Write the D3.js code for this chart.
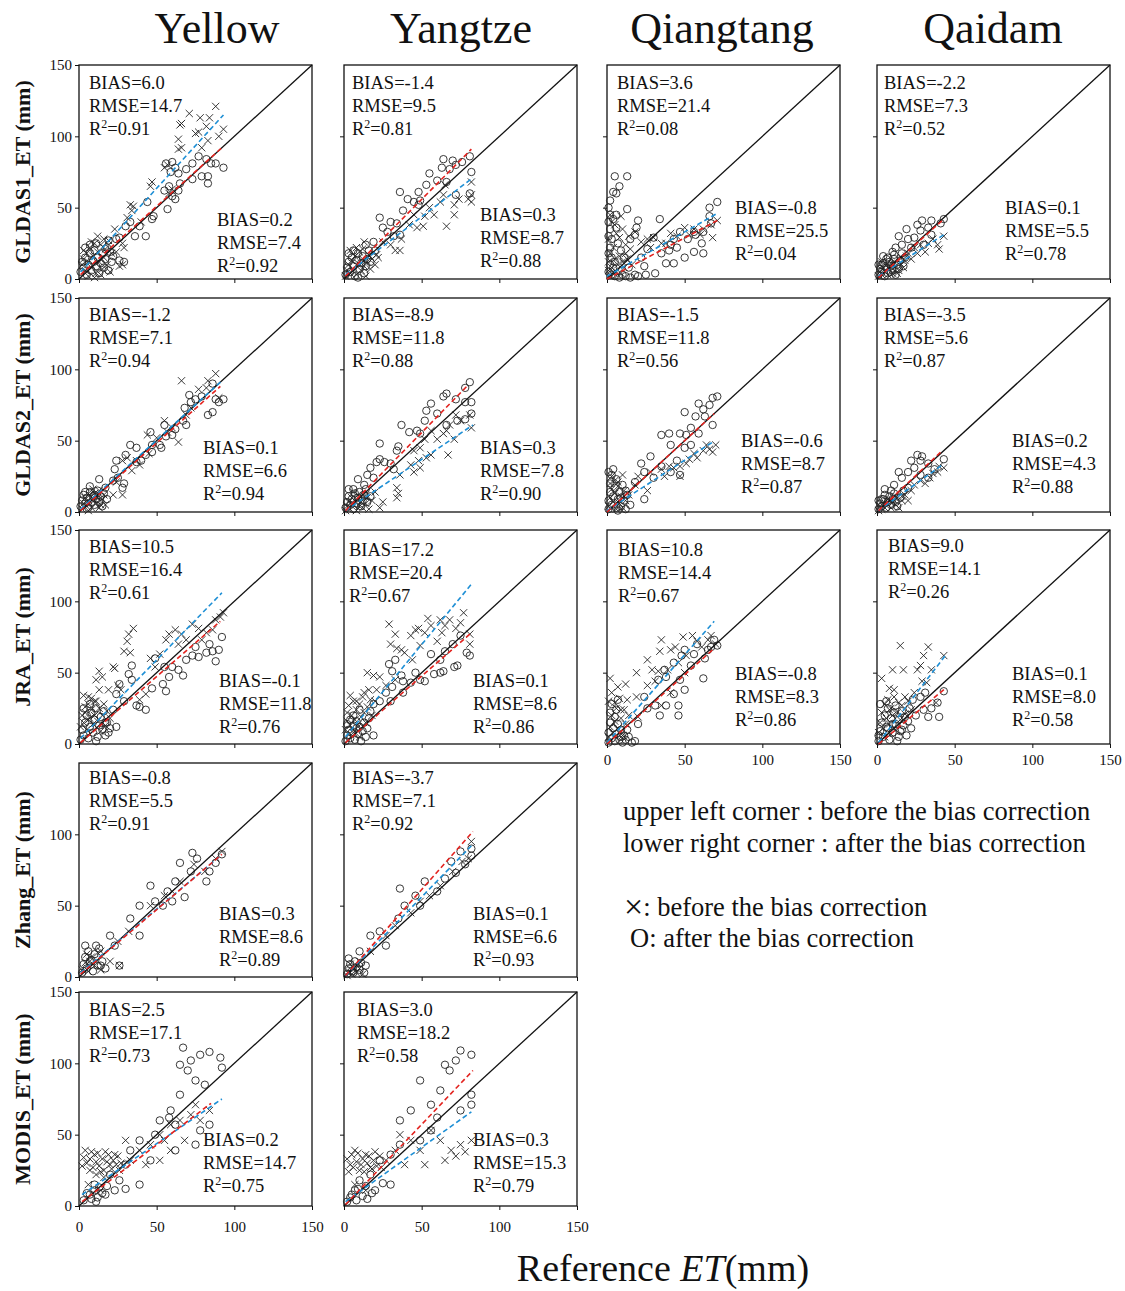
<!DOCTYPE html>
<html>
<head>
<meta charset="utf-8">
<script src="https://cdn.jsdelivr.net/npm/d3@7"></script>
<style>
  body { margin: 0; background: #fff; }
  svg { display: block; }
  text { font-family: "Liberation Serif", "Times New Roman", serif; fill: #111; }
</style>
</head>
<body>
<svg id="chart" width="1125" height="1291"></svg>
<script>
// ---------------- data ----------------
const regions = ["Yellow", "Yangtze", "Qiangtang", "Qaidam"];
const products = ["GLDAS1_ET (mm)", "GLDAS2_ET (mm)", "JRA_ET (mm)", "Zhang_ET (mm)", "MODIS_ET (mm)"];
const axisTicks = [0, 50, 100, 150];

// [reference ET, product ET] pairs in mm; "Before" = before bias correction, "After" = after
const gldas1YellowBefore = [[88,121],[71,116],[66,109],[65,108],[77,103],[75,102],[78,113],[84,113],[82,107],[93,105],[90,100],[83,97],[79,92],[64,98],[66,92],[64,91],[55,78],[57,80],[47,68],[46,65],[33,52],[35,51],[34,48],[31,43],[23,35],[28,25],[29,22],[28,10],[26,9],[24,19],[58,60],[60,63],[40,40],
  [2,10],[3,14],[4,6],[5,18],[6,12],[7,22],[8,8],[9,16],[10,25],[11,4],[12,19],[13,12],[14,24],[15,7],[16,15],[17,21],[18,10],[19,27],[20,5],[21,18],[6,2],[10,1],[14,3],[3,20],[8,26],[12,30],[16,28]];
const gldas1YellowAfter = [[56,81],[60,82],[62,78],[59,75],[64,74],[69,77],[73,81],[77,86],[82,84],[85,81],[88,81],[93,78],[79,72],[83,72],[73,70],[83,67],[65,67],[58,65],[64,62],[55,62],[60,58],[62,56],[57,49],[48,44],[47,42],[44,54],[39,37],[36,30],[43,30],[33,40],[30,37],[26,29],[24,28],[19,27],[17,21],[20,19],[26,13],[29,12],
  [1,5],[2,12],[3,8],[4,15],[5,3],[6,10],[7,18],[8,6],[9,13],[10,20],[11,9],[12,15],[13,4],[14,11],[15,18],[16,8],[17,14],[18,22],[19,6],[21,12],[4,22],[7,24],[11,25],[22,16]];

const gldas1YangtzeBefore = [[82,68],[82,59],[82,54],[80,56],[71,45],[66,37],[74,56],[71,52],[64,59],[65,66],[62,54],[55,50],[52,44],[51,37],[47,36],[42,38],[37,28],[36,20],[33,20],[30,24],[25,26],[21,17],[13,26],[12,21],[45,45],[58,45],
  [1,2],[2,6],[3,10],[4,4],[5,13],[6,7],[7,16],[8,3],[9,11],[10,19],[11,6],[12,14],[13,9],[14,2],[15,12],[16,17],[17,7],[18,14],[20,10],[4,20],[8,22],[22,15]];
const gldas1YangtzeAfter = [[64,84],[70,83],[76,82],[81,86],[82,75],[63,78],[68,77],[72,80],[55,74],[53,66],[48,61],[49,55],[36,61],[41,56],[45,54],[48,52],[23,43],[30,40],[25,36],[34,39],[36,31],[38,48],[60,69],[66,68],[72,59],[81,60],[32,30],[19,26],[14,24],[28,33],[20,20],
  [1,3],[2,8],[3,12],[4,5],[5,15],[6,9],[7,2],[8,13],[9,18],[10,7],[11,11],[12,16],[13,4],[14,9],[15,14],[16,20],[3,18],[6,20],[9,1],[17,12]];

const gldas1QiangtangBefore = [[2,45],[5,38],[9,44],[8,29],[12,24],[15,21],[18,33],[22,26],[26,28],[30,29],[35,25],[41,32],[50,36],[53,31],[56,35],[62,35],[67,38],[71,41],[68,29],[60,31],[45,30],[38,25],[28,22],[6,32],[3,40],[10,35],[1,28],[14,30],
  [1,12],[2,18],[3,8],[4,22],[5,14],[6,5],[7,10],[8,16],[9,4],[10,12],[11,8],[12,18],[3,2],[1,6],[13,14],[16,10]];
const gldas1QiangtangAfter = [[5,72],[13,72],[8,65],[4,61],[6,60],[2,45],[13,49],[20,41],[19,36],[18,31],[15,28],[34,42],[30,29],[26,21],[22,15],[24,9],[25,3],[31,4],[38,11],[43,11],[50,15],[56,19],[62,18],[61,25],[45,22],[52,28],[56,33],[62,33],[67,39],[66,44],[71,54],[66,50],[57,31],[41,24],[35,18],[47,33],[43,28],[40,20],
  [1,40],[2,35],[1,30],[3,28],[2,22],[1,18],[3,15],[2,10],[4,8],[1,5],[3,3],[5,2],[8,1],[10,3],[12,2],[15,1],[18,3],[20,2],[6,36],[4,42],[7,25],[9,20],[11,15],[5,12],[14,8],[1,50],[2,55],[6,45]];

const gldas1QaidamBefore = [[43,30],[40,21],[39,24],[36,28],[31,19],[28,24],[24,22],[20,18],[16,15],[11,12],[7,8],[13,4],[33,25],[26,18],[22,14],
  [1,2],[2,5],[3,3],[4,8],[5,5],[6,10],[7,3],[8,7],[9,11],[10,4],[12,9],[14,6],[15,11],[17,8],[18,13],[3,12],[19,16]];
const gldas1QaidamAfter = [[29,41],[35,41],[43,42],[19,35],[41,39],[28,34],[33,36],[24,29],[16,24],[11,17],[22,22],[30,24],[35,31],[7,15],[3,10],[9,5],[26,38],[20,28],[14,30],
  [1,3],[2,7],[3,5],[4,11],[5,2],[6,8],[7,4],[8,12],[9,9],[10,6],[11,14],[12,3],[13,10],[14,7],[15,13],[16,18],[17,9],[18,15],[1,10],[4,16],[6,14],[10,19],[12,22]];

const gldas2YellowBefore = [[83,92],[88,97],[82,87],[66,92],[77,86],[69,68],[64,49],[60,59],[55,64],[57,56],[45,41],[44,54],[39,33],[34,29],[37,36],[28,36],[31,38],[24,21],[28,12],[22,12],[17,5],[13,3],[90,80],[72,73],[50,52],
  [2,2],[3,6],[4,10],[5,4],[6,8],[7,12],[8,3],[9,9],[10,13],[11,6],[12,10],[13,15],[14,5],[15,9],[16,12],[6,1],[9,16]];
const gldas2YellowAfter = [[86,90],[93,79],[90,77],[88,79],[83,68],[86,70],[79,81],[75,79],[71,82],[72,77],[68,73],[67,64],[69,61],[62,58],[60,54],[56,53],[55,61],[52,47],[53,45],[46,56],[47,47],[47,42],[43,40],[40,36],[37,35],[33,47],[37,45],[30,40],[24,36],[23,30],[25,24],[28,17],[29,20],[22,22],[17,17],[13,23],[10,12],
  [1,4],[2,8],[3,12],[4,6],[5,10],[6,3],[7,14],[8,7],[9,11],[10,5],[11,9],[12,15],[13,7],[14,11],[15,4],[16,13],[4,14],[7,18],[18,9]];

const gldas2YangtzeBefore = [[82,59],[81,68],[75,64],[72,68],[68,61],[66,57],[71,51],[67,40],[64,55],[60,51],[56,57],[52,51],[49,45],[56,40],[53,38],[45,43],[48,36],[43,33],[45,28],[36,26],[49,31],[34,17],[35,13],[34,10],[25,7],[23,3],[20,14],[15,10],
  [1,1],[2,4],[3,7],[4,2],[5,10],[6,5],[7,8],[8,1],[9,12],[10,4],[11,7],[12,3],[13,11],[14,6],[16,2],[18,8],[6,14]];
const gldas2YangtzeAfter = [[81,91],[78,87],[64,81],[72,79],[78,77],[82,77],[82,69],[56,76],[53,71],[60,69],[66,61],[73,64],[78,65],[52,64],[47,57],[42,56],[49,55],[37,61],[23,48],[35,46],[34,43],[23,37],[26,35],[21,35],[17,31],[15,26],[30,34],[32,30],[19,24],[13,19],[6,16],[9,23],[66,83],
  [1,3],[2,7],[3,11],[4,5],[5,9],[6,2],[7,13],[8,6],[9,10],[10,14],[11,4],[12,8],[13,12],[14,16],[3,16],[15,7],[17,11]];

const gldas2QiangtangBefore = [[70,47],[66,44],[68,42],[62,43],[56,41],[53,37],[51,34],[47,32],[43,31],[40,32],[47,25],[35,30],[28,28],[20,25],[18,19],[10,26],[3,25],[7,21],[26,15],[58,38],[64,47],[37,25],
  [1,4],[2,10],[3,16],[4,7],[5,13],[6,2],[7,18],[8,6],[9,11],[10,3],[11,15],[12,8],[14,12],[2,20],[5,22]];
const gldas2QiangtangAfter = [[68,80],[71,81],[66,75],[59,76],[57,67],[63,67],[50,70],[68,61],[54,59],[47,55],[51,54],[40,55],[35,54],[59,55],[54,47],[50,45],[41,47],[28,39],[45,36],[35,32],[47,26],[41,28],[22,34],[24,28],[30,24],[18,21],[12,15],[9,10],[15,5],[24,9],[62,72],
  [1,2],[1,8],[2,14],[2,20],[3,5],[3,26],[4,11],[5,17],[6,3],[6,23],[7,9],[8,14],[9,4],[10,19],[11,8],[12,2],[13,12],[1,28],[4,30],[7,1]];

const gldas2QaidamBefore = [[43,31],[40,32],[39,28],[34,24],[28,22],[24,19],[22,15],[16,11],[11,8],[20,8],[31,20],[36,27],
  [1,1],[2,4],[3,2],[4,6],[5,3],[6,8],[7,5],[8,9],[9,3],[10,7],[12,5],[13,10],[14,3],[16,8],[18,12]];
const gldas2QaidamAfter = [[29,39],[28,36],[43,37],[24,31],[33,34],[20,28],[28,26],[16,24],[11,19],[9,15],[20,17],[33,24],[3,9],[26,40],[22,36],[37,30],[14,28],
  [1,2],[2,6],[3,4],[4,9],[5,12],[6,3],[7,7],[8,11],[9,5],[10,9],[11,13],[12,7],[13,4],[15,10],[1,8],[5,16],[17,15]];

const jraYellowBefore = [[35,81],[32,77],[31,72],[33,64],[29,65],[22,54],[23,53],[13,51],[15,47],[11,45],[3,34],[6,33],[10,30],[13,38],[25,41],[27,38],[19,38],[46,60],[49,54],[52,63],[56,73],[58,77],[62,80],[66,77],[69,73],[64,70],[73,84],[77,81],[82,78],[86,80],[91,89],[93,92],[88,87],[79,73],[43,35],[39,31],[4,26],[6,17],
  [1,12],[2,20],[3,15],[4,22],[5,10],[6,28],[7,18],[8,24],[9,14],[10,20],[11,30],[12,16],[13,25],[14,9],[15,20],[16,28],[17,13],[18,23],[20,18],[8,32]];
const jraYellowAfter = [[34,55],[32,49],[34,45],[26,42],[24,35],[29,30],[37,27],[43,24],[39,26],[47,39],[54,42],[56,37],[58,47],[64,52],[67,48],[60,54],[69,59],[73,62],[77,61],[82,64],[86,65],[90,66],[92,75],[88,58],[84,70],[75,68],[55,54],[49,60],[22,24],[17,15],[24,12],[19,8],
  [1,3],[2,10],[3,6],[4,15],[5,20],[6,4],[7,12],[8,22],[9,8],[10,17],[11,25],[12,5],[13,13],[14,19],[15,10],[16,23],[17,6],[18,15],[20,11],[3,25],[7,28],[11,2]];

const jraYangtzeBefore = [[29,84],[33,77],[30,70],[34,67],[37,66],[39,64],[43,76],[46,80],[48,81],[54,88],[56,83],[52,78],[62,87],[65,83],[68,87],[72,81],[77,92],[75,85],[81,77],[81,70],[63,78],[60,72],[49,69],[44,59],[15,50],[19,48],[23,47],[27,41],[13,36],[4,34],[8,30],[17,31],[21,38],[33,45],[2,22],
  [1,10],[2,16],[3,27],[4,13],[5,20],[6,30],[7,17],[8,24],[9,12],[10,28],[11,19],[12,33],[13,22],[14,15],[15,26],[16,38],[18,20],[20,30],[6,8],[10,5]];
const jraYangtzeAfter = [[81,62],[79,64],[73,55],[71,54],[65,65],[62,59],[56,63],[62,50],[64,51],[58,49],[52,44],[49,45],[43,43],[46,50],[38,44],[31,51],[29,56],[33,59],[37,48],[38,36],[31,40],[27,36],[23,30],[30,30],[19,28],[10,24],[17,23],[4,17],[19,6],[8,11],[70,70],[75,76],
  [1,2],[2,6],[3,10],[4,4],[5,8],[6,13],[7,3],[8,16],[9,7],[10,12],[11,2],[12,9],[13,15],[14,5],[15,11],[16,18],[2,14],[6,20]];

const jraQiangtangBefore = [[2,46],[12,42],[19,50],[26,59],[29,52],[33,51],[34,65],[35,73],[41,66],[44,68],[49,75],[55,76],[58,72],[51,62],[46,57],[39,52],[31,44],[26,41],[19,33],[13,31],[5,29],[9,24],[20,19],[35,27],[41,36],[50,50],[65,73],[61,68],[67,76],[70,70],
  [1,5],[2,12],[3,20],[4,8],[5,16],[6,25],[7,11],[8,32],[9,18],[10,6],[11,24],[12,14],[14,20],[1,30],[3,36],[7,40]];
const jraQiangtangAfter = [[69,73],[67,68],[65,66],[63,60],[62,46],[54,55],[56,63],[50,66],[48,62],[43,57],[37,52],[33,45],[38,47],[47,45],[50,38],[43,35],[46,27],[38,27],[46,20],[34,20],[31,27],[24,33],[26,25],[20,14],[13,10],[18,2],[9,5],[5,19],[7,31],[58,70],[71,69],
  [1,1],[1,8],[2,15],[3,4],[4,11],[5,2],[6,7],[7,14],[8,3],[9,10],[10,1],[11,6],[12,3],[14,5],[16,1],[2,22],[3,28],[6,24]];

const jraQaidamBefore = [[15,69],[33,68],[10,52],[17,52],[26,52],[35,52],[28,55],[30,62],[43,62],[3,46],[8,39],[11,38],[29,44],[32,43],[24,36],[18,33],[14,29],[8,24],[38,29],
  [1,8],[2,15],[3,22],[4,11],[5,28],[6,18],[7,31],[8,14],[9,25],[10,20],[11,33],[12,10],[13,22],[15,17],[16,27],[18,21],[20,30],[22,24],[5,5],[9,7]];
const jraQaidamAfter = [[43,37],[39,29],[40,19],[28,33],[31,36],[23,31],[21,25],[30,24],[33,19],[18,19],[10,14],[7,11],[16,10],[14,5],[1,6],[25,20],[35,25],[12,27],
  [1,2],[2,9],[3,15],[4,5],[5,20],[6,12],[7,25],[8,3],[9,18],[10,8],[11,22],[12,14],[13,2],[14,17],[15,9],[16,23],[17,13],[19,6],[20,16],[2,28],[6,30],[22,11]];

const zhangYellowBefore = [[88,83],[92,88],[81,74],[65,67],[55,57],[46,50],[32,32],[25,25],[14,18],[7,11],[20,11],[26,8],[74,79],[60,60],
  [2,5],[4,10],[6,4],[8,14],[10,8],[12,17],[14,5],[5,16]];
const zhangYellowAfter = [[73,87],[76,83],[92,86],[84,74],[82,67],[72,74],[65,80],[62,67],[57,60],[60,53],[46,64],[49,53],[39,50],[33,41],[39,29],[20,29],[23,22],[11,22],[7,11],[14,8],[26,8],[88,80],[68,56],[54,50],
  [2,3],[3,9],[4,14],[5,6],[6,18],[8,12],[9,4],[10,16],[12,8],[13,20],[15,11],[17,6],[4,22]];

const zhangYangtzeBefore = [[82,95],[76,81],[70,74],[62,64],[49,53],[43,45],[33,36],[27,29],[17,18],[10,11],[7,6],[80,83],[55,57],
  [2,1],[3,4],[5,2],[6,7],[8,3],[10,6],[12,2],[4,9]];
const zhangYangtzeAfter = [[82,90],[82,85],[78,79],[72,73],[69,81],[65,69],[52,67],[46,57],[49,50],[36,62],[39,50],[35,41],[23,32],[27,22],[17,29],[10,18],[7,11],[14,8],[5,4],[60,60],[75,88],
  [2,2],[3,6],[4,9],[6,3],[8,7],[10,5],[11,10],[13,3],[3,13]];

const modisYellowBefore = [[4,39],[7,25],[10,36],[14,24],[17,38],[20,29],[26,25],[23,36],[6,15],[14,11],[33,32],[30,46],[39,39],[46,43],[52,50],[55,46],[59,57],[65,60],[72,64],[78,60],[75,71],[84,67],[68,46],[52,32],[43,29],[59,39],
  [2,28],[3,34],[5,30],[8,38],[9,27],[11,31],[12,37],[13,28],[15,33],[16,25],[18,31],[19,36],[21,26],[22,32],[24,29],[25,35],[27,30],[11,22],[16,20],[7,33]];
const modisYellowAfter = [[65,99],[72,102],[67,111],[78,106],[84,108],[91,104],[92,97],[75,88],[81,85],[65,78],[59,67],[62,57],[52,60],[49,50],[39,46],[33,39],[30,29],[46,32],[62,39],[75,43],[78,53],[84,57],[20,22],[10,15],[7,8],[17,8],[23,11],[39,15],[70,95],[58,62],
  [3,4],[5,9],[8,5],[10,11],[12,6],[13,13],[15,9],[18,14],[11,3],[26,18],[30,12]];

const modisYangtzeBefore = [[4,29],[7,39],[10,25],[14,36],[17,27],[20,38],[27,32],[33,39],[36,50],[43,46],[49,39],[56,53],[62,46],[69,39],[75,43],[82,46],[65,32],[52,29],[39,29],[7,15],[14,11],
  [2,33],[3,24],[5,36],[6,27],[8,31],[9,37],[11,29],[12,33],[13,24],[15,30],[16,35],[18,26],[19,32],[21,28],[23,35],[24,27],[72,35],[78,38]];
const modisYangtzeAfter = [[75,109],[82,106],[72,102],[62,81],[65,99],[56,71],[49,88],[43,67],[36,60],[56,53],[49,46],[36,43],[30,36],[23,32],[17,22],[10,18],[7,11],[20,11],[30,15],[75,67],[82,71],[82,78],[4,6],[68,95],[60,62],
  [2,3],[5,8],[8,4],[9,12],[12,7],[14,14],[15,5],[18,9],[25,16]];

// regression lines [x0, y0, x1, y1] in mm, panel order row by row
const fitBefore = [[1,5,93,115],[1,3,83,71],[0,2,71,46],[1,2,43,31],
                   [1,2,92,92],[1,1,83,61],[0,1,68,49],[1,1,42,33],
                   [1,4,92,106],[1,5,82,112],[0,1,69,86],[1,1,44,62],
                   [1,3,90,84],[1,1,82,92],
                   [2,8,92,75],[1,3,82,66]];
const fitAfter  = [[1,3,93,93],[1,2,82,91],[0,0,71,41],[1,1,42,41],
                   [1,1,91,88],[1,1,79,88],[0,0,69,69],[1,1,41,42],
                   [1,1,91,86],[1,1,81,77],[0,0,69,67],[1,0,44,39],
                   [1,2,92,86],[1,1,83,102],
                   [2,3,85,72],[1,1,83,95]];

// [BIAS, RMSE, R2]
const statsBefore = [[6.0,14.7,0.91],[-1.4,9.5,0.81],[3.6,21.4,0.08],[-2.2,7.3,0.52],
                     [-1.2,7.1,0.94],[-8.9,11.8,0.88],[-1.5,11.8,0.56],[-3.5,5.6,0.87],
                     [10.5,16.4,0.61],[17.2,20.4,0.67],[10.8,14.4,0.67],[9.0,14.1,0.26],
                     [-0.8,5.5,0.91],[-3.7,7.1,0.92],
                     [2.5,17.1,0.73],[3.0,18.2,0.58]];
const statsAfter  = [[0.2,7.4,0.92],[0.3,8.7,0.88],[-0.8,25.5,0.04],[0.1,5.5,0.78],
                     [0.1,6.6,0.94],[0.3,7.8,0.90],[-0.6,8.7,0.87],[0.2,4.3,0.88],
                     [-0.1,11.8,0.76],[0.1,8.6,0.86],[-0.8,8.3,0.86],[0.1,8.0,0.58],
                     [0.3,8.6,0.89],[0.1,6.6,0.93],
                     [0.2,14.7,0.75],[0.3,15.3,0.79]];

const beforeSeries = [gldas1YellowBefore, gldas1YangtzeBefore, gldas1QiangtangBefore, gldas1QaidamBefore,
  gldas2YellowBefore, gldas2YangtzeBefore, gldas2QiangtangBefore, gldas2QaidamBefore,
  jraYellowBefore, jraYangtzeBefore, jraQiangtangBefore, jraQaidamBefore,
  zhangYellowBefore, zhangYangtzeBefore, modisYellowBefore, modisYangtzeBefore];
const afterSeries = [gldas1YellowAfter, gldas1YangtzeAfter, gldas1QiangtangAfter, gldas1QaidamAfter,
  gldas2YellowAfter, gldas2YangtzeAfter, gldas2QiangtangAfter, gldas2QaidamAfter,
  jraYellowAfter, jraYangtzeAfter, jraQiangtangAfter, jraQaidamAfter,
  zhangYellowAfter, zhangYangtzeAfter, modisYellowAfter, modisYangtzeAfter];

// ---------------- layout ----------------
const panelGrid = [[0,0],[0,1],[0,2],[0,3],[1,0],[1,1],[1,2],[1,3],[2,0],[2,1],[2,2],[2,3],[3,0],[3,1],[4,0],[4,1]];
const colLeft = [79, 344, 607, 877];
const rowTop = [65, 298, 530, 763, 992];
const panelW = 233, panelH = 214;
// stat-box anchors inside each panel: [upper-left x, y, lower-right x, y] (px)
const noteAnchors = [[10,18,138,155],[8,18,136,150],[10,18,128,143],[7,18,128,143],
                     [10,17,124,150],[8,17,136,150],[10,17,134,143],[7,17,135,143],
                     [10,17,140,151],[5,20,129,151],[11,20,128,144],[11,16,135,144],
                     [10,15,140,151],[8,15,129,151],
                     [10,18,124,148],[13,18,129,148]];

const blue = "#1e8fd5", red = "#e3231f";
const svg = d3.select("#chart");

const x = d3.scaleLinear().domain([0, 150]).range([0, panelW]);
const y = d3.scaleLinear().domain([0, 150]).range([panelH, 0]);

function statBlock(g, px, py, vals) {
  const lh = 23, fs = 18.5;
  const t = g.append("text").attr("x", px).attr("y", py + 6).attr("font-size", fs);
  t.append("tspan").attr("x", px).text("BIAS=" + vals[0].toFixed(1));
  t.append("tspan").attr("x", px).attr("dy", lh).text("RMSE=" + vals[1].toFixed(1));
  t.append("tspan").attr("x", px).attr("dy", lh).text("R");
  t.append("tspan").attr("dy", -7).attr("font-size", 12).text("2");
  t.append("tspan").attr("dy", 7).text("=" + vals[2].toFixed(2));
}

panelGrid.forEach(([row, col], i) => {
  const g = svg.append("g").attr("transform", `translate(${colLeft[col]},${rowTop[row]})`);

  // axes
  const showY = col === 0;
  const yAxis = d3.axisLeft(y).tickValues(row === 3 ? [0, 50, 100] : axisTicks)
    .tickSize(4).tickSizeOuter(0).tickPadding(3)
    .tickFormat(showY ? d => d : () => "");
  const ya = g.append("g").call(yAxis);
  if (!showY) ya.selectAll(".tick").filter(d => d === 0 || d === 150).remove();

  const showX = (row === 4 && col < 2) || (row === 2 && col >= 2);
  const xAxis = d3.axisBottom(x).tickValues(axisTicks)
    .tickSize(4).tickSizeOuter(0).tickPadding(row === 4 ? 11 : 6)
    .tickFormat(showX ? d => d : () => "");
  const xa = g.append("g").attr("transform", `translate(0,${panelH})`).call(xAxis);
  [ya, xa].forEach(a => {
    a.selectAll("text").attr("font-size", 15).attr("font-family", "Liberation Serif, serif").attr("fill", "#111");
    a.selectAll("line").attr("stroke", "#111").attr("stroke-width", 1);
    a.select(".domain").remove();
  });

  // frame
  g.append("rect").attr("x", x(0)).attr("y", y(150))
    .attr("width", x(150) - x(0)).attr("height", y(0) - y(150))
    .attr("fill", "none").attr("stroke", "#111").attr("stroke-width", 1.3);

  // crosses: before correction
  const cs = 3.6;
  g.append("g").selectAll("path").data(beforeSeries[i]).join("path")
    .attr("d", d => {
      const cx = x(d[0]), cy = y(d[1]);
      return `M${cx - cs},${cy - cs}L${cx + cs},${cy + cs}M${cx - cs},${cy + cs}L${cx + cs},${cy - cs}`;
    })
    .attr("stroke", "#222").attr("stroke-width", 0.9).attr("fill", "none");

  // circles: after correction
  g.append("g").selectAll("circle").data(afterSeries[i]).join("circle")
    .attr("cx", d => x(d[0])).attr("cy", d => y(d[1])).attr("r", 3.7)
    .attr("fill", "none").attr("stroke", "#222").attr("stroke-width", 0.9);

  // 1:1 line
  g.append("line").attr("x1", x(0)).attr("y1", y(0)).attr("x2", x(150)).attr("y2", y(150))
    .attr("stroke", "#111").attr("stroke-width", 1.3);

  // fitted lines
  [[fitBefore[i], blue], [fitAfter[i], red]].forEach(([f, c]) => {
    g.append("line").attr("x1", x(f[0])).attr("y1", y(f[1])).attr("x2", x(f[2])).attr("y2", y(f[3]))
      .attr("stroke", c).attr("stroke-width", 1.6).attr("stroke-dasharray", "5,3");
  });

  const a = noteAnchors[i];
  statBlock(g, a[0], a[1], statsBefore[i]);
  statBlock(g, a[2], a[3], statsAfter[i]);
});

// column titles
const colCenters = [217, 461, 722, 993];
svg.selectAll(".coltitle").data(regions).join("text")
  .attr("x", (d, i) => colCenters[i]).attr("y", 43)
  .attr("text-anchor", "middle").attr("font-size", 44).text(d => d);

// row titles
products.forEach((p, r) => {
  const cy = rowTop[r] + panelH / 2;
  svg.append("text").attr("transform", `translate(22,${cy}) rotate(-90)`)
    .attr("text-anchor", "middle").attr("dy", "0.35em")
    .attr("font-size", 22).attr("font-weight", "bold").text(p);
});

// x axis title
const xt = svg.append("text").attr("x", 663).attr("y", 1281).attr("text-anchor", "middle").attr("font-size", 38);
xt.append("tspan").text("Reference ");
xt.append("tspan").attr("font-style", "italic").text("ET");
xt.append("tspan").text("(mm)");

// explanatory notes
const notes = [
  ["upper left corner : before the bias correction", 623, 820],
  ["lower right corner : after the bias correction", 623, 852]
];
svg.selectAll(".note").data(notes).join("text")
  .attr("x", d => d[1]).attr("y", d => d[2]).attr("font-size", 26.5).text(d => d[0]);

const m1 = svg.append("text").attr("x", 624).attr("y", 916).attr("font-size", 26.5);
m1.append("tspan").attr("font-size", 34).attr("dy", 2).text("\u00d7");
m1.append("tspan").attr("dy", -2).text(": before the bias correction");
svg.append("text").attr("x", 630).attr("y", 947).attr("font-size", 26.5).text("O: after the bias correction");
</script>
</body>
</html>
